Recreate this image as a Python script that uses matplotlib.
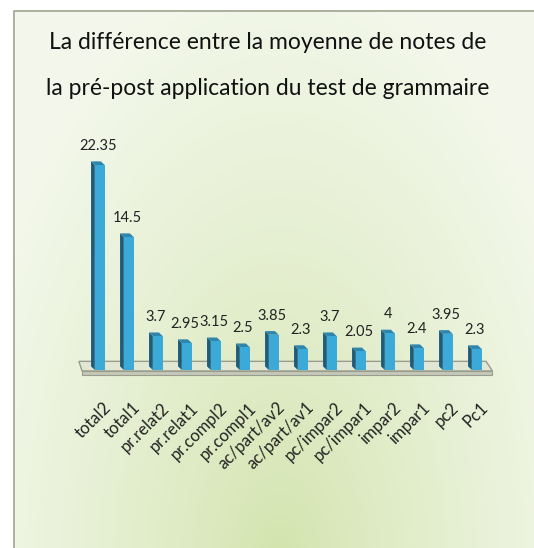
import numpy as np
import matplotlib.pyplot as plt
from matplotlib.patches import Polygon, Rectangle

# Donnees
categories = ["total2", "total1", "pr.relat2", "pr.relat1", "pr.compl2", "pr.compl1",
              "ac/part/av2", "ac/part/av1", "pc/impar2", "pc/impar1", "impar2",
              "impar1", "pc2", "Pc1"]
valeurs = [22.35, 14.5, 3.7, 2.95, 3.15, 2.5, 3.85, 2.3, 3.7, 2.05, 4, 2.4, 3.95, 2.3]
etiquettes = ["22.35", "14.5", "3.7", "2.95", "3.15", "2.5", "3.85", "2.3", "3.7",
              "2.05", "4", "2.4", "3.95", "2.3"]
titre1 = "La différence entre la moyenne de notes de"
titre2 = "la pré-post application du test de grammaire"

police = ["Lato", "DejaVu Sans"]

W, H = 534, 548
fig = plt.figure(figsize=(W / 100, H / 100), dpi=100)

# Fond en degrade
bg = fig.add_axes([0, 0, 1, 1], zorder=0)
bg.set_xlim(0, W)
bg.set_ylim(H, 0)
bg.axis("off")
yy, xx = np.mgrid[0:H, 0:W]
d = np.sqrt(((xx - 280) / 330.0) ** 2 + ((yy - 570) / 620.0) ** 2)
t = np.clip(d, 0, 1) ** 0.8
c_in = np.array([0.82, 0.89, 0.67])
c_out = np.array([0.955, 0.972, 0.925])
img = c_in[None, None, :] * (1 - t[..., None]) + c_out[None, None, :] * t[..., None]
bg.imshow(img, extent=[0, W, H, 0], aspect="auto")
bg.add_patch(Rectangle((0, 0), W, 11, color="white", zorder=2))
bg.add_patch(Rectangle((0, 0), 14, H, color="white", zorder=2))
bg.plot([14, 14, W], [H, 11, 11], color="#9da38c", lw=1.2, zorder=3)

fig.text(0.502, 1 - 49 / H, titre1, ha="center", va="baseline", fontsize=16.5,
         family=police, color="#111111")
fig.text(0.502, 1 - 95 / H, titre2, ha="center", va="baseline", fontsize=16.5,
         family=police, color="#111111")

# Graphique
ax = fig.add_axes([0.1401, 0.2996, 0.7929, 0.4436], zorder=1)
ax.set_xlim(-0.8, 13.8)
ax.set_ylim(-1.5, 25)
ax.axis("off")

# plancher
ax.add_patch(Polygon([(-0.66, 0.95), (13.38, 0.95), (13.6, -0.1), (-0.55, -0.1)],
                     closed=True, facecolor="#e2e7d4", edgecolor="#9a9c8c", lw=1.0))
ax.add_patch(Polygon([(-0.55, -0.1), (13.6, -0.1), (13.6, -0.5), (-0.55, -0.5)],
                     closed=True, facecolor="#c4c8b8", edgecolor="#9a9c8c", lw=0.8))

x = np.arange(len(categories))
larg = 0.34
dx, dy = 0.13, 0.4
for xi, v in zip(x, valeurs):
    x0 = xi - 0.11
    x1 = x0 + larg
    ax.add_patch(Polygon([(x0, 0), (x0, v), (x0 - dx, v + dy), (x0 - dx, dy)],
                         closed=True, facecolor="#1d5c7a", edgecolor="none"))
    ax.add_patch(Polygon([(x0, v), (x1, v), (x1 - dx, v + dy), (x0 - dx, v + dy)],
                         closed=True, facecolor="#2f86ad", edgecolor="none"))
ax.bar(x - 0.11 + larg / 2, valeurs, width=larg, color="#3caad9", edgecolor="none")

for xi, v, lab in zip(x, valeurs, etiquettes):
    ax.annotate(lab, (xi, v + dy), xytext=(0, 6), textcoords="offset points",
                ha="center", va="bottom", fontsize=10.5, family=police, color="#222222")

for xi, lab in zip(x, categories):
    ax.annotate(lab, (xi + 0.36, -0.5), xytext=(0, -22), textcoords="offset points",
                ha="right", va="center", rotation=45, rotation_mode="anchor",
                fontsize=12, family=police, color="#222222")

fig.savefig("out.png", dpi=100)
